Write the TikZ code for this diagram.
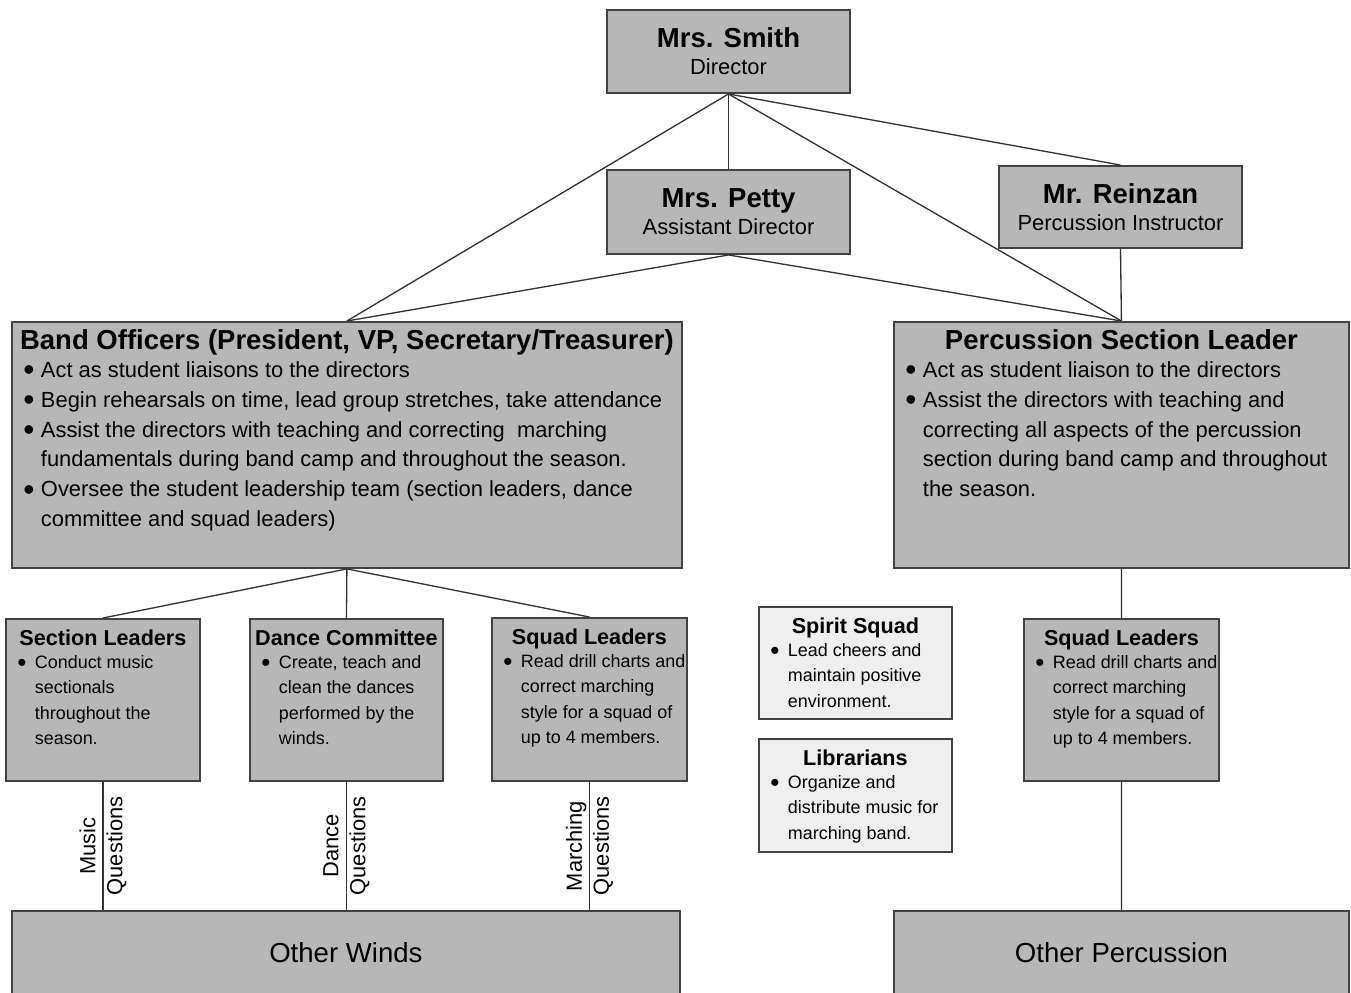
\documentclass[tikz,border=0pt]{standalone}
\usepackage{fontspec}
\setmainfont{Liberation Sans}

\definecolor{boxgray}{HTML}{B7B7B7}
\definecolor{boxlight}{HTML}{EFEFEF}
\definecolor{boxline}{HTML}{434343}
\definecolor{linegray}{HTML}{333333}

\newcommand\headfont{\fontsize{15.65pt}{17pt}\selectfont\bfseries}
\newcommand\bodyfont{\fontsize{12.47pt}{17pt}\selectfont}
\newcommand\subheadfont{\fontsize{12.3pt}{14.3pt}\selectfont\bfseries}
\newcommand\subbodyfont{\fontsize{10.2pt}{14.3pt}\selectfont}
\newcommand\basefont{\fontsize{15.7pt}{17pt}\selectfont}

\newlength\bhang
\setlength\bhang{0.35cm}
\newcommand\bitem[1]{\par\hangindent=\bhang\hangafter=1\noindent\makebox[\bhang][l]{\raisebox{-0.16em}{\scalebox{1.45}{\textbullet}}}#1}

\tikzset{
  chartbox/.style={draw=boxline, fill=boxgray, line width=1.1pt},
  namebox/.style={chartbox, minimum width=4.86cm, inner sep=0pt, align=center, font=\bodyfont},
  orgbox/.style={chartbox, anchor=north west, inner xsep=0.23cm, inner ysep=0pt},
  lightbox/.style={orgbox, fill=boxlight},
  basebox/.style={chartbox, anchor=north west, inner sep=0pt, font=\basefont},
  link/.style={draw=linegray, line width=0.75pt},
  qlabel/.style={rotate=90, align=center, font=\bodyfont, inner sep=0pt}
}

\begin{document}
\begin{tikzpicture}[x=0.02cm, y=-0.02cm]
\useasboundingbox (0,0) rectangle (1351,992);

% directors
\node[namebox, minimum height=1.66cm] (smith) at (728.5,51.5) {{\headfont Mrs. Smith}\\[-0.06cm]Director};
\node[namebox, minimum height=1.68cm] (petty) at (728.5,212) {{\headfont Mrs. Petty}\\[-0.06cm]Assistant Director};
\node[namebox, minimum height=1.64cm] (reinzan) at (1120.5,207) {{\headfont Mr. Reinzan}\\[-0.06cm]Percussion Instructor};

% student leaders
\node[orgbox] (bandoff) at (11,321) {\parbox[c][4.92cm][t]{12.94cm}{\bodyfont\vspace*{0.16cm}%
\makebox[\linewidth]{\headfont Band Officers (President, VP, Secretary/Treasurer)}\par\vspace{-0.05cm}
\bitem{\mbox{Act as student liaisons to the directors}}
\bitem{\mbox{Begin rehearsals on time, lead group stretches, take attendance}}
\bitem{\mbox{Assist the directors with teaching and correcting\ \ marching}\newline\mbox{fundamentals during band camp and throughout the season.}}
\bitem{\mbox{Oversee the student leadership team (section leaders, dance}\newline\mbox{committee and squad leaders)}}}};
\node[orgbox] (pslead) at (893,321) {\parbox[c][4.92cm][t]{8.64cm}{\bodyfont\vspace*{0.16cm}%
\makebox[\linewidth]{\headfont Percussion Section Leader}\par\vspace{-0.05cm}
\bitem{\mbox{Act as student liaison to the directors}}
\bitem{\mbox{Assist the directors with teaching and}\newline\mbox{correcting all aspects of the percussion}\newline\mbox{section during band camp and throughout}\newline\mbox{the season.}}}};

% small boxes
\node[orgbox] (seclead) at (5,618) {\parbox[c][3.24cm][t]{3.42cm}{\subbodyfont\vspace*{0.22cm}%
\makebox[\linewidth]{\subheadfont Section Leaders}\par\vspace{-0.04cm}
\bitem{\mbox{Conduct music}\newline\mbox{sectionals}\newline\mbox{throughout the}\newline\mbox{season.}}}};
\node[orgbox] (dance) at (249,618) {\parbox[c][3.24cm][t]{3.40cm}{\subbodyfont\vspace*{0.22cm}%
\makebox[\linewidth]{\subheadfont Dance Committee}\par\vspace{-0.04cm}
\bitem{\mbox{Create, teach and}\newline\mbox{clean the dances}\newline\mbox{performed by the}\newline\mbox{winds.}}}};
\node[orgbox] (squadl) at (491,617) {\parbox[c][3.26cm][t]{3.44cm}{\subbodyfont\vspace*{0.22cm}%
\makebox[\linewidth]{\subheadfont Squad Leaders}\par\vspace{-0.04cm}
\bitem{\mbox{Read drill charts and}\newline\mbox{correct marching}\newline\mbox{style for a squad of}\newline\mbox{up to 4 members.}}}};
\node[lightbox] (spirit) at (758,606) {\parbox[c][2.24cm][t]{3.40cm}{\subbodyfont\vspace*{0.22cm}%
\makebox[\linewidth]{\subheadfont Spirit Squad}\par\vspace{-0.04cm}
\bitem{\mbox{Lead cheers and}\newline\mbox{maintain positive}\newline\mbox{environment.}}}};
\node[lightbox] (libr) at (758,738) {\parbox[c][2.26cm][t]{3.40cm}{\subbodyfont\vspace*{0.22cm}%
\makebox[\linewidth]{\subheadfont Librarians}\par\vspace{-0.04cm}
\bitem{\mbox{Organize and}\newline\mbox{distribute music for}\newline\mbox{marching band.}}}};
\node[orgbox] (squadr) at (1023,618) {\parbox[c][3.24cm][t]{3.44cm}{\subbodyfont\vspace*{0.22cm}%
\makebox[\linewidth]{\subheadfont Squad Leaders}\par\vspace{-0.04cm}
\bitem{\mbox{Read drill charts and}\newline\mbox{correct marching}\newline\mbox{style for a squad of}\newline\mbox{up to 4 members.}}}};

% everyone else
\node[basebox, minimum width=13.36cm, minimum height=1.68cm] (winds) at (11,910) {Other Winds};
\node[basebox, minimum width=9.1cm, minimum height=1.68cm] (perc) at (893,910) {Other Percussion};

% connectors
\draw[link] (smith.south) -- (petty.north);
\draw[link] (smith.south) -- (bandoff.north);
\draw[link] (smith.south) -- (pslead.north);
\draw[link] (smith.south) -- (reinzan.north);
\draw[link] (petty.south) -- (bandoff.north);
\draw[link] (petty.south) -- (pslead.north);
\draw[link] (reinzan.south) -- (pslead.north);
\draw[link] (bandoff.south) -- (seclead.north);
\draw[link] (bandoff.south) -- (dance.north);
\draw[link] (bandoff.south) -- (squadl.north);
\draw[link] (pslead.south) -- (squadr.north);
\draw[link] (squadr.south) -- (perc.north);
\draw[link] (seclead.south) -- node[qlabel] {Music\\[-0.06cm]Questions} (seclead.south |- winds.north);
\draw[link] (dance.south) -- node[qlabel] {Dance\\[-0.06cm]Questions} (dance.south |- winds.north);
\draw[link] (squadl.south) -- node[qlabel] {Marching\\[-0.06cm]Questions} (squadl.south |- winds.north);
\end{tikzpicture}
\end{document}
